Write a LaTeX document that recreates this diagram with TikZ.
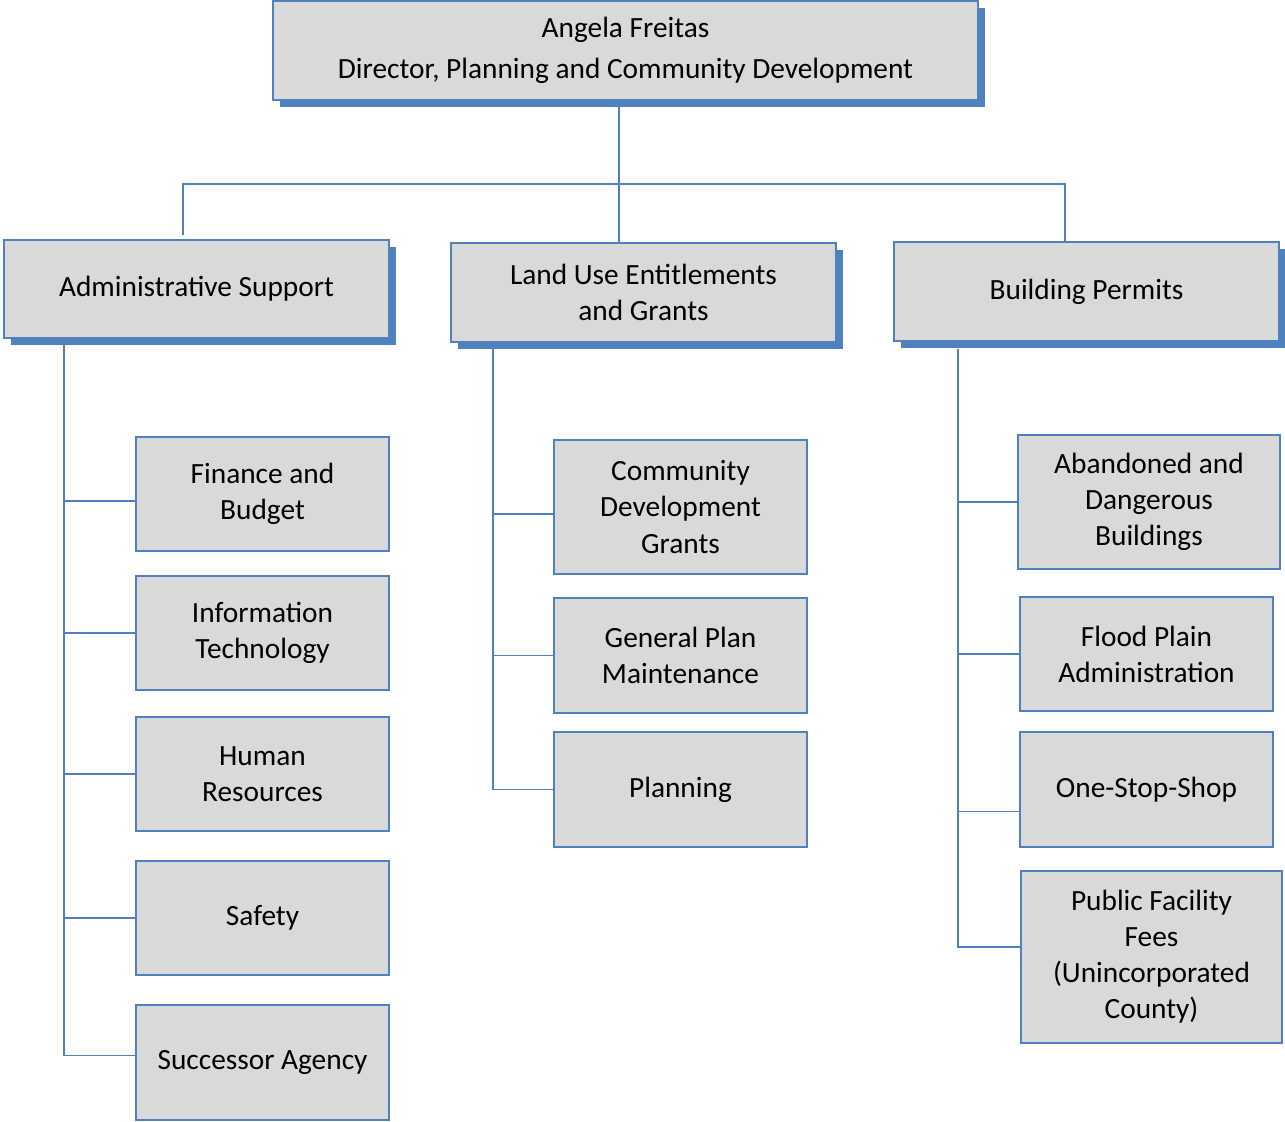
\documentclass[tikz,border=0pt]{standalone}
\usepackage{fontspec}
\setmainfont{Carlito}
\usetikzlibrary{shadows}
\definecolor{azul}{HTML}{4F81BD}
\definecolor{gris}{HTML}{D9D9D9}

\begin{document}
\begin{tikzpicture}[
    x=0.02cm,y=-0.02cm,line cap=rect,
    box/.style={draw=azul,fill=gris,line width=1.1pt,align=center,
                font=\fontsize{16.7}{20.5}\selectfont,inner sep=0pt,
                minimum width=5.06cm,minimum height=2.29cm},
    head/.style={box,drop shadow={shadow xshift=4pt,shadow yshift=-4pt,
                 fill=azul,opacity=1}},
    link/.style={azul,line width=1.1pt}]
  \useasboundingbox (0,0) rectangle (1285,1122);
  % --- director y tres divisiones
  \node[head,minimum width=14.1cm,minimum height=1.98cm] (dir) at (625.5,50.5)
    {Angela Freitas\\[2.5pt]Director, Planning and Community Development};
  \node[head,minimum width=7.7cm,minimum height=1.96cm] (adm) at (196.5,289)
    {Administrative Support};
  \node[head,minimum width=7.7cm,minimum height=1.98cm] (land) at (643.5,292.5)
    {Land Use Entitlements\\and Grants};
  \node[head,minimum width=7.7cm,minimum height=1.98cm] (bld) at (1086.5,291.5)
    {Building Permits};
  % --- administrative support
  \node[box] (fin) at (262.5,494) {Finance and\\Budget};
  \node[box] (it)  at (262.5,633) {Information\\Technology};
  \node[box] (hr)  at (262.5,774) {Human\\Resources};
  \node[box] (saf) at (262.5,918) {Safety};
  \node[box] (suc) at (262.5,1062.5) {Successor Agency};
  % --- land use
  \node[box,minimum height=2.68cm] (cdg) at (680.5,507) {Community\\Development\\Grants};
  \node[box] (gpm) at (680.5,655.5) {General Plan\\Maintenance};
  \node[box] (pln) at (680.5,789.5) {Planning};
  % --- building permits
  \node[box,minimum width=5.24cm,minimum height=2.68cm] (adb) at (1149,502)
    {Abandoned and\\Dangerous\\Buildings};
  \node[box] (fld) at (1146.5,654) {Flood Plain\\Administration};
  \node[box] (oss) at (1146.5,789.5) {One-Stop-Shop};
  \node[box,minimum width=5.22cm,minimum height=3.44cm] (pff) at (1151.5,957)
    {Public Facility\\Fees\\(Unincorporated\\County)};
  % --- conectores
  \coordinate (hub) at (619,184);
  \coordinate (admtop) at (183,234);
  \coordinate (bldtop) at (1065,242);
  \draw[link] (dir.south -| hub) -- (land.north -| hub);
  \draw[link] (admtop) |- (hub) -| (bldtop);
  \coordinate (admbus) at (64,346);
  \coordinate (landbus) at (493,350);
  \coordinate (bldbus) at (958,350);
  \draw[link] (admbus) |- ([yshift=4pt]suc.west);
  \draw[link] (admbus) |- ([yshift=-4pt]fin.west);
  \foreach \n in {it,hr,saf}
    \draw[link] (admbus) |- (\n.west);
  \draw[link] (landbus) |- (pln.west);
  \draw[link] (landbus) |- ([yshift=-4pt]cdg.west);
  \draw[link] (landbus) |- (gpm.west);
  \draw[link] (bldbus) |- ([yshift=5.7pt]pff.west);
  \draw[link] (bldbus) |- ([yshift=-12.5pt]oss.west);
  \foreach \n in {adb,fld}
    \draw[link] (bldbus) |- (\n.west);
\end{tikzpicture}
\end{document}
